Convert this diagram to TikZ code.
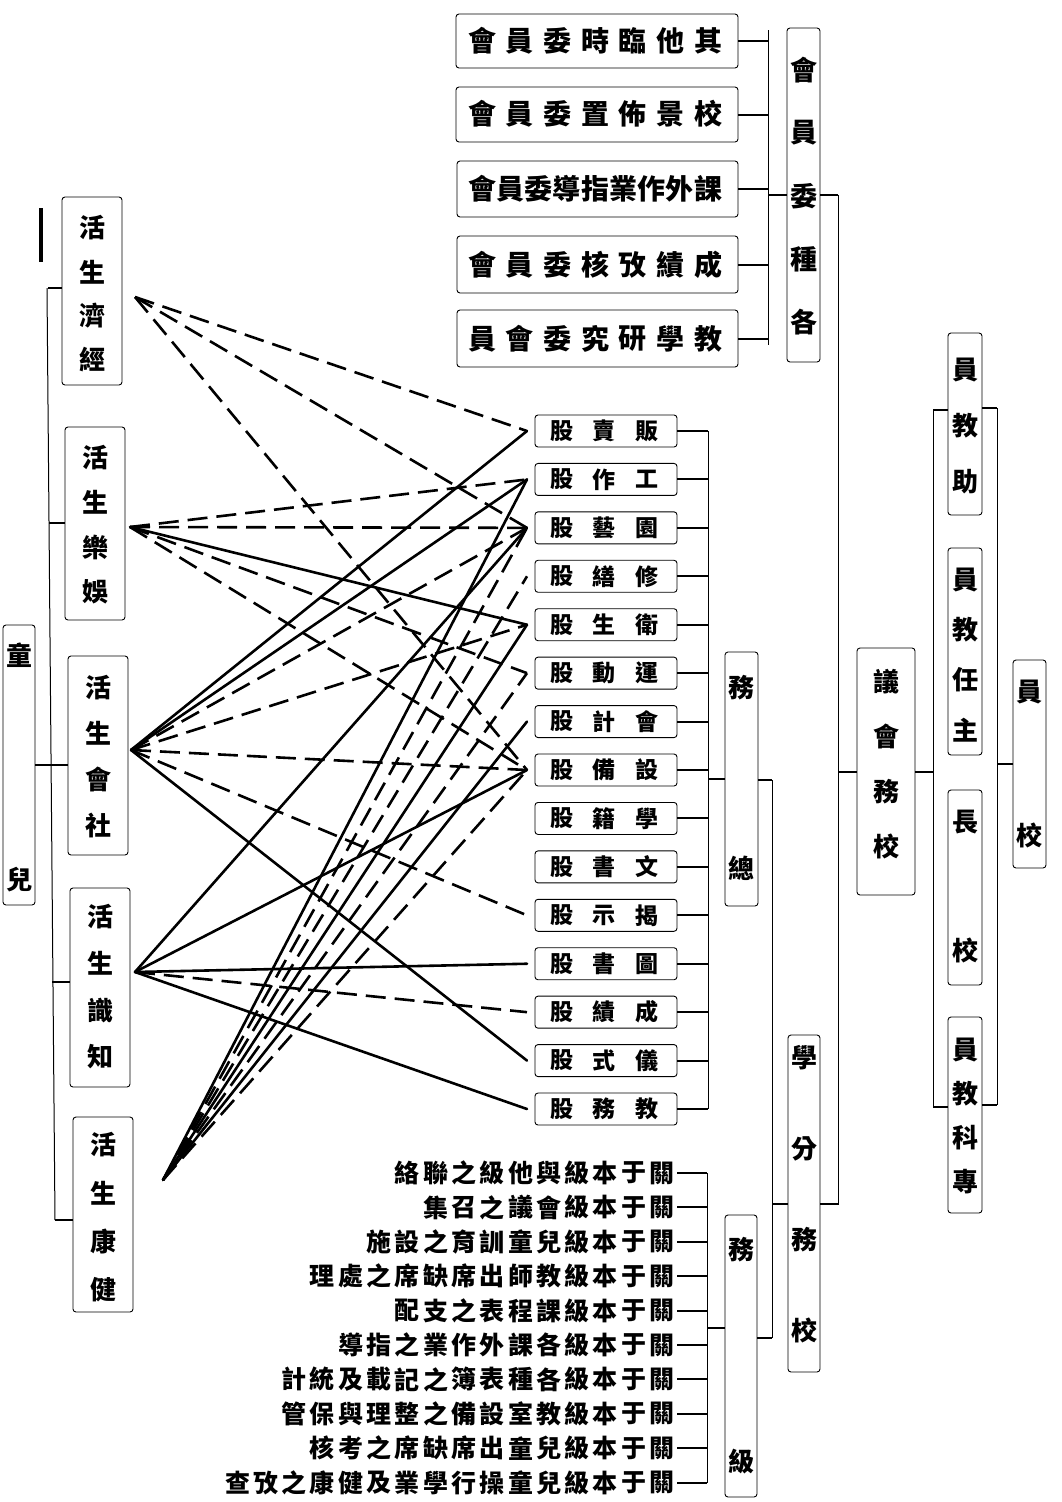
\documentclass[tikz,border=0pt]{standalone}
\usepackage{fontspec}
\newfontfamily\cjk{Noto Sans CJK TC}
\def\csz{24}
\newcommand\vtx[5]{\foreach \cc [count=\ii from 0] in {#5} {\node[ch] at (#1,{#2+(#3-#2)*\ii/#4}) {\cc};}}
\newcommand\htx[5]{\foreach \cc [count=\ii from 0] in {#5} {\node[ch] at ({#2+(#3-#2)*\ii/#4},#1) {\cc};}}
\newcommand\bxn[5]{\node[bx, minimum width={((#4)-(#2))*1pt}, minimum height={((#5)-(#3))*1pt}] (#1) at ({((#2)+(#4))/2},{((#3)+(#5))/2}) {};}
\begin{document}
\begin{tikzpicture}[x=1pt,y=-1pt,
 bx/.style={draw, line width=0.9pt, rounded corners=3pt, inner sep=0pt},
 tk/.style={line width=2pt},
 br/.style={line width=1pt},
 ch/.style={font=\cjk\bfseries\fontsize{\csz}{\csz}\selectfont, inner sep=0pt},
 sl/.style={line width=2.6pt, line cap=round},
 dl/.style={line width=2.6pt, dash pattern=on 20pt off 9pt},
]
\fill[white] (0,0) rectangle (1062,1502);
\useasboundingbox (0,0) rectangle (1062,1502);

% ---------- top committee strips ----------
\def\csz{28}
\bxn{s1}{456}{14}{738}{68}   \htx{41}{708}{482}{6}{其,他,臨,時,委,員,會}
\bxn{s2}{456}{87}{738}{142}  \htx{114}{708}{482}{6}{校,景,佈,置,委,員,會}
\bxn{s3}{457}{161}{738}{217} \htx{189}{708}{482}{8}{課,外,作,業,指,導,委,員,會}
\bxn{s4}{457}{236}{738}{293} \htx{265}{708}{482}{6}{成,績,攷,核,委,員,會}
\bxn{s5}{457}{310}{738}{367} \htx{339}{708}{482}{6}{教,學,研,究,委,會,員}
\coordinate (v1t) at (768,30); \coordinate (v1b) at (768,345);
\draw[br] (v1t) -- (v1b);
\foreach \n in {s1,s2,s3,s4,s5} \draw[tk] (\n.east) -- (\n.east -| v1t);

\def\csz{27}
\bxn{gk}{787}{28}{820}{362} \vtx{803.5}{70}{322}{4}{會,員,委,種,各}
\draw[tk] (v1t |- gk.west) -- (gk.west);

% ---------- right side ----------
\def\csz{26}
\bxn{yh}{857}{648}{915}{895} \vtx{886}{682}{846}{3}{議,會,務,校}
\bxn{zj}{948}{333}{982}{515} \vtx{965}{370}{482}{2}{員,教,助}
\bxn{zz}{948}{548}{982}{755} \vtx{965}{580}{730}{3}{員,教,任,主}
\bxn{zc}{948}{790}{982}{985} \vtx{965}{822}{950}{1}{長,校}
\bxn{zk}{948}{1017}{982}{1213} \vtx{965}{1050}{1182}{3}{員,教,科,專}
\bxn{zy}{1013}{660}{1046}{868} \vtx{1029.5}{692}{835}{1}{員,校}

\coordinate (v2t) at (838,195); \coordinate (v2b) at (838,1205);
\draw[br] (v2t) -- (v2b);
\draw[tk] (gk.east) -- (gk.east -| v2t);
\draw[tk] (v2t |- yh.west) -- (yh.west);

\coordinate (v3t) at (933,410); \coordinate (v3b) at (933,1107);
\draw[br] (v3t) -- (v3b);
\draw[tk] (yh.east) -- (yh.east -| v3t);
\draw[tk] (v3t) -- (v3t -| zj.west);
\draw[tk] (v3b) -- (v3b -| zk.west);

\coordinate (v4t) at (997,408); \coordinate (v4b) at (997,1105);
\draw[br] (v4t) -- (v4b);
\draw[tk] (v4t -| zj.east) -- (v4t);
\draw[tk] (v4b -| zk.east) -- (v4b);
\draw[tk] (v4t |- zy.west) -- (zy.west);

% ---------- middle column ----------
\def\csz{26}
\bxn{xf}{788}{1035}{820}{1372} \vtx{804}{1058}{1330}{3}{學,分,務,校}
\draw[tk] (xf.east) -- (xf.east -| v2t);

\bxn{zw}{725}{652}{758}{906} \vtx{741.5}{688}{868}{1}{務,總}
\bxn{jw}{725}{1215}{757}{1497} \vtx{741}{1250}{1462}{1}{務,級}

\coordinate (v5t) at (708,431); \coordinate (v5b) at (708,1109);
\draw[br] (v5t) -- (v5b);
\draw[tk] (zw.west) -- (zw.west -| v5t);

\coordinate (v6t) at (772,780); \coordinate (v6b) at (772,1338);
\draw[br] (v6t) -- (v6b);
\draw[tk] (v6t -| zw.east) -- (v6t);
\draw[tk] (v6t |- xf.west) -- (xf.west);
\draw[tk] (v6b -| jw.east) -- (v6b);

\coordinate (v7t) at (707,1173); \coordinate (v7b) at (707,1483);
\draw[br] (v7t) -- (v7b);
\coordinate (v7m) at (707,1328);
\draw[tk] (v7m) -- (v7m -| jw.west);

% ---------- sections (gu) ----------
\def\csz{23}
\foreach \a/\b [count=\ii] in {販/賣,工/作,園/藝,修/繕,衛/生,運/動,會/計,設/備,學/籍,文/書,揭/示,圖/書,成/績,儀/式,教/務}{
  \pgfmathsetmacro\yy{431+48.43*(\ii-1)}
  \pgfmathsetmacro\ya{\yy-16}
  \pgfmathsetmacro\yb{\yy+16}
  \bxn{g\ii}{535}{\ya}{677}{\yb}
  \node[ch] at (647,\yy) {\a};
  \node[ch] at (604,\yy) {\b};
  \node[ch] at (562,\yy) {股};
  \draw[tk] (g\ii.east) -- (g\ii.east -| v5t);
  \coordinate (p\ii) at (527,\yy);
}

% ---------- class-affair rows ----------
\def\csz{25}
\htx{1173}{662}{407.3}{9}{關,于,本,級,與,他,級,之,聯,絡}
\htx{1207.4}{662}{435.6}{8}{關,于,本,級,會,議,之,召,集}
\htx{1241.8}{662}{379}{10}{關,于,本,級,兒,童,訓,育,之,設,施}
\htx{1276.2}{662}{322.4}{12}{關,于,本,級,教,師,出,席,缺,席,之,處,理}
\htx{1310.6}{662}{407.3}{9}{關,于,本,級,課,程,表,之,支,配}
\htx{1345}{662}{350.7}{11}{關,于,本,級,各,課,外,作,業,之,指,導}
\htx{1379.4}{662}{294.1}{13}{關,于,本,級,各,種,表,簿,之,記,載,及,統,計}
\htx{1413.8}{662}{294.1}{13}{關,于,本,級,教,室,設,備,之,整,理,與,保,管}
\htx{1448.2}{662}{322.4}{12}{關,于,本,級,兒,童,出,席,缺,席,之,考,核}
\htx{1482.6}{662}{237.5}{15}{關,于,本,級,兒,童,操,行,學,業,及,健,康,之,攷,查}
\foreach \ii in {0,...,9}{
  \coordinate (r\ii) at (677,{1173+34.4*\ii});
  \draw[tk] (r\ii) -- (r\ii -| v7t);
}

% ---------- left: life areas ----------
\def\csz{26}
\bxn{e1}{62}{197}{122}{385}  \vtx{92}{228}{360}{3}{活,生,濟,經}
\bxn{e2}{65}{427}{125}{620}  \vtx{95}{458}{592}{3}{活,生,樂,娛}
\bxn{e3}{68}{656}{128}{855}  \vtx{98}{688}{825}{3}{活,生,會,社}
\bxn{e4}{70}{888}{130}{1087} \vtx{100}{917}{1057}{3}{活,生,識,知}
\bxn{e5}{73}{1117}{133}{1312} \vtx{103}{1145}{1290}{3}{活,生,康,健}
\bxn{et}{3}{625}{35}{905} \vtx{19}{655}{880}{1}{童,兒}
\coordinate (v0t) at (47,288); \coordinate (v0b) at (55,1220);
\draw[br] (v0t) -- (v0b);
\draw[tk] (48,288) -- (e1.west |- 0,288);
\draw[tk] (49,523) -- (e2.west |- 0,523);
\draw[tk] (51,765) -- (e3.west |- 0,765);
\draw[tk] (52,982) -- (e4.west |- 0,982);
\draw[tk] (55,1220) -- (e5.west |- 0,1220);
\draw[tk] (et.east |- 0,765) -- (51,765);
\draw[line width=3.5pt] (41,208) -- (41,262);

% ---------- crossing relation lines ----------
\coordinate (A1) at (135,297);
\coordinate (A2) at (130,527);
\coordinate (A3) at (131,750);
\coordinate (A4) at (135,972);
\coordinate (A5) at (163,1180);
% economic life
\draw[dl] (A1) -- (p1);
\draw[dl] (A1) -- (p3);
\draw[dl] (A1) -- (p8);
% recreation
\draw[dl] (A2) -- (p2);
\draw[dl] (A2) -- (p3);
\draw[sl] (A2) -- (p5);
\draw[dl] (A2) -- (p6);
\draw[dl] (A2) -- (p8);
% social
\draw[sl] (A3) -- (p1);
\draw[sl] (A3) -- (p2);
\draw[dl] (A3) -- (p3);
\draw[dl] (A3) -- (p5);
\draw[dl] (A3) -- (p8);
\draw[dl] (A3) -- (p11);
\draw[sl] (A3) -- (p14);
% knowledge
\draw[sl] (A4) -- (p3);
\draw[sl] (A4) -- (p8);
\draw[sl] (A4) -- (p12);
\draw[dl] (A4) -- (p13);
\draw[sl] (A4) -- (p15);
% health
\draw[sl] (A5) -- (p2);
\draw[dl] (A5) -- (p3);
\draw[dl] (A5) -- (p4);
\draw[sl] (A5) -- (p5);
\draw[dl] (A5) -- (p6);
\draw[sl] (A5) -- (p7);
\draw[dl] (A5) -- (p8);
\end{tikzpicture}
\end{document}
